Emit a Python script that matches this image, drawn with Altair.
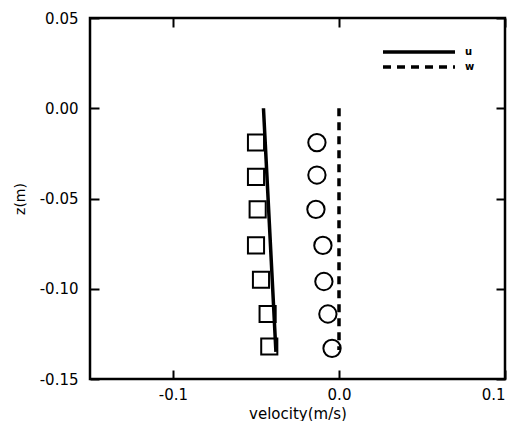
import altair as alt
import pandas as pd

u_z = [-0.019, -0.038, -0.056, -0.076, -0.095, -0.114, -0.132]
u_vel = [-0.050, -0.050, -0.049, -0.050, -0.047, -0.043, -0.042]
w_z = [-0.019, -0.037, -0.056, -0.076, -0.096, -0.114, -0.133]
w_vel = [-0.0133, -0.0133, -0.0139, -0.0097, -0.0091, -0.0067, -0.0042]

# model profiles
line_series = ["u", "u", "w", "w"]
line_vel = [-0.0455, -0.038, 0.0, 0.0]
line_z = [0.0, -0.135, 0.0, -0.134]

x_ticks = [-0.1, 0.0, 0.1]
y_ticks = [-0.15, -0.10, -0.05, 0.0, 0.05]

W, H = 415, 361
FONT = "DejaVu Sans"

u_df = pd.DataFrame({"v": u_vel, "z": u_z})
w_df = pd.DataFrame({"v": w_vel, "z": w_z})
l_df = pd.DataFrame({"s": line_series, "v": line_vel, "z": line_z})

xs = alt.Scale(domain=[-0.15, 0.1], nice=False, zero=False)
ys = alt.Scale(domain=[-0.15, 0.05], nice=False, zero=False)

xlab = "(datum.value < -1e-9 ? '-' : '') + format(abs(datum.value), '.1f')"
ylab = "(datum.value < -1e-9 ? '-' : '') + format(abs(datum.value), '.2f')"


def tick_axis(values, orient, offset):
    return alt.Axis(values=values, orient=orient, offset=offset, labels=False,
                    domain=False, grid=False, ticks=True, tickSize=9,
                    tickWidth=2, tickColor="black", title=None)


main_x = alt.Axis(values=x_ticks, orient="bottom", labelExpr=xlab, ticks=False,
                  tickSize=0, domain=False, grid=False, labelPadding=8,
                  labelFont=FONT, labelFontSize=15, labelColor="black",
                  title="velocity(m/s)", titleFont=FONT, titleFontSize=15,
                  titleFontWeight="normal", titleColor="black", titlePadding=4)
main_y = alt.Axis(values=y_ticks, orient="left", labelExpr=ylab, ticks=False,
                  tickSize=0, domain=False, grid=False, labelPadding=12,
                  labelFont=FONT, labelFontSize=15, labelColor="black",
                  title="z(m)", titleFont=FONT, titleFontSize=14,
                  titleFontWeight="normal", titleColor="black", titlePadding=12)

pts_u = alt.Chart(u_df).mark_point(shape="square", filled=False, size=260,
                                   strokeWidth=2, color="black", opacity=1).encode(
    x=alt.X("v:Q", scale=xs, axis=main_x),
    y=alt.Y("z:Q", scale=ys, axis=main_y),
)

pts_w = alt.Chart(w_df).mark_point(shape="circle", filled=False, size=300,
                                   strokeWidth=2, color="black", opacity=1).encode(
    x=alt.X("v:Q", scale=xs, axis=tick_axis(x_ticks, "top", -H)),
    y=alt.Y("z:Q", scale=ys, axis=tick_axis(y_ticks, "right", -W)),
)

lines = alt.Chart(l_df).mark_line(strokeWidth=3.5, color="black").encode(
    x=alt.X("v:Q", scale=xs, axis=tick_axis(x_ticks, "bottom", -H)),
    y=alt.Y("z:Q", scale=ys, axis=tick_axis(y_ticks, "left", -W)),
    detail="s:N",
    strokeDash=alt.StrokeDash(
        "s:N",
        scale=alt.Scale(domain=["u", "w"], range=[[1, 0], [8, 6]]),
        legend=alt.Legend(orient="none", legendX=321, legendY=26, title=None,
                          symbolType="M-6,0H6", symbolSize=144,
                          symbolStrokeWidth=3.5, symbolStrokeColor="black",
                          labelFont=FONT, labelFontSize=10, labelFontWeight="bold",
                          labelColor="black", labelOffset=38, rowPadding=-3,
                          padding=0),
    ),
)

chart = alt.layer(pts_u, pts_w, lines).resolve_axis(
    x="independent", y="independent"
).resolve_scale(x="shared", y="shared").properties(
    width=W, height=H,
    autosize=alt.AutoSizeParams(type="none"),
    padding={"left": 82, "top": 10, "right": 5, "bottom": 42},
    background="white",
).configure_view(stroke="black", strokeWidth=2.5)

chart.save("out.html", embed_options={"renderer": "svg", "actions": False})
